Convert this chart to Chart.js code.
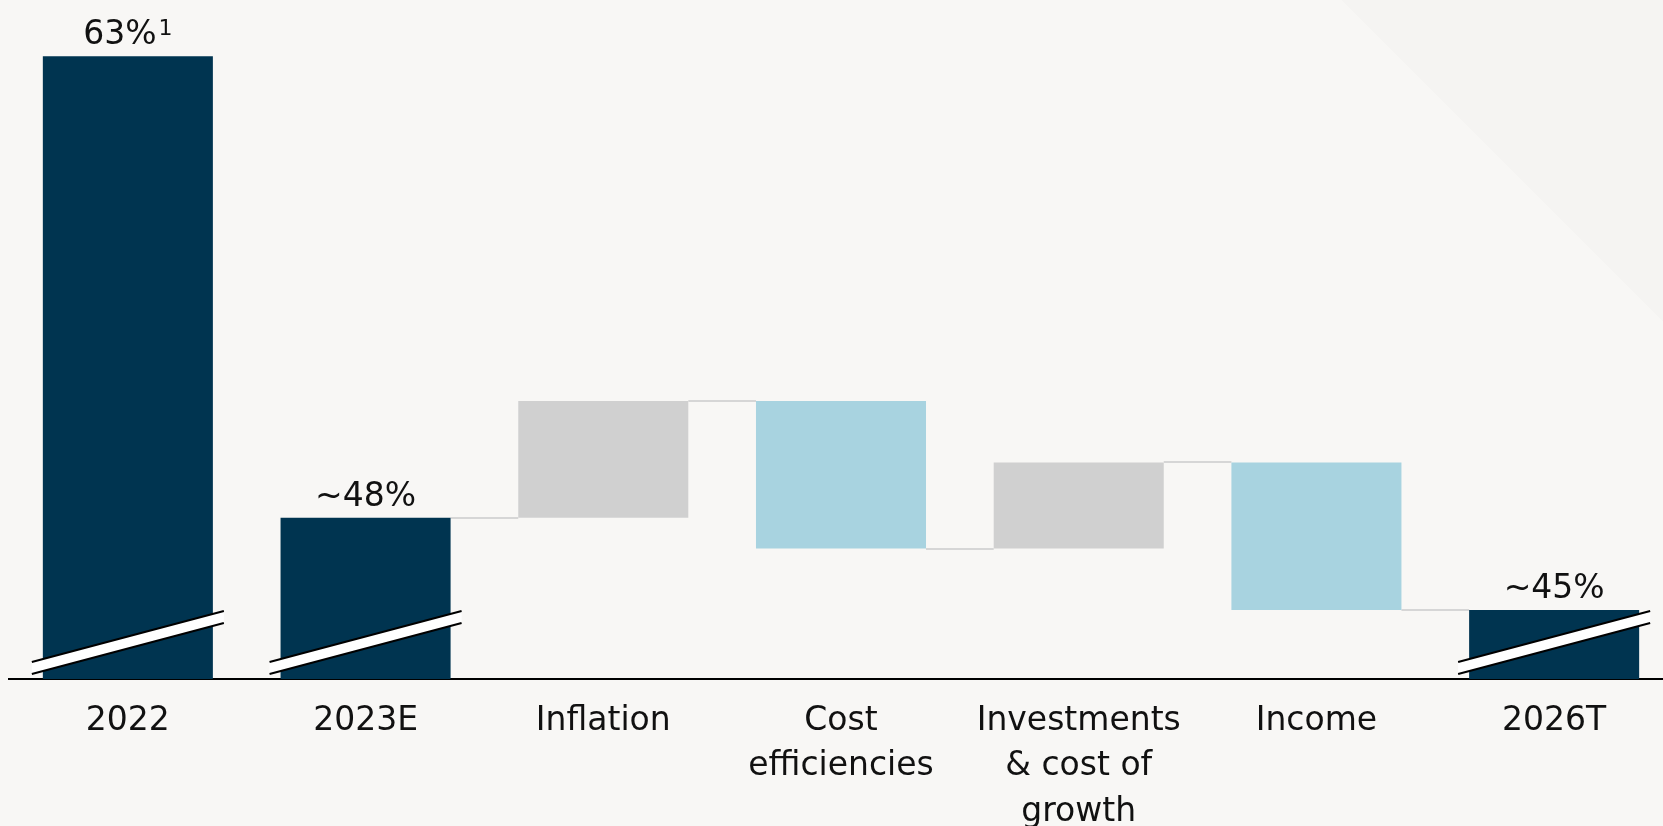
<!DOCTYPE html>
<html>
<head>
<meta charset="utf-8">
<script src="https://cdn.jsdelivr.net/npm/chart.js@4"></script>
<style>
  html, body {
    margin: 0;
    padding: 0;
    width: 1663px;
    height: 826px;
    overflow: hidden;
    background: linear-gradient(45deg, #f8f7f5 87.1%, #f5f4f2 87.1%);
  }
  #wrap {
    position: absolute;
    left: 0;
    top: 0;
    width: 1673px;
    height: 826px;
  }
</style>
</head>
<body>
<div id="wrap"><canvas id="myChart"></canvas></div>
<script>
// Cost/income ratio walk, 2022 -> 2026 target

const categories = ['2022', '2023E', 'Inflation', ['Cost', 'efficiencies'], ['Investments', '& cost of', 'growth'], 'Income', '2026T'];

// totals (dark bars) and the floating steps in between
const totals = [63, 48, null, null, null, null, 45];
const steps = [null, null, [48, 51.8], [51.8, 47.0], [47.0, 49.8], [49.8, 45.0], null];

const valueLabels = ['63%', '~48%', '', '', '', '', '~45%'];
const footnotes = ['1', '', '', '', '', '', ''];
const brokenBars = [true, true, false, false, false, false, true];

const navy = '#003450';
const grey = '#d0d0d0';
const lightBlue = '#a8d3e0';
const barColors = [navy, navy, grey, lightBlue, grey, lightBlue, navy];

// y range of the visible window (axis is broken, so it does not start at 0)
const yMin = 42.76;
const yMax = 64.83;

const fontFamily = '"DejaVu Sans", sans-serif';

let barData = [];
for (let i = 0; i < categories.length; i++) {
    barData.push(totals[i] !== null ? totals[i] : steps[i]);
}

// level where each bar ends, used for the thin connector lines
function endLevel(i) {
    return totals[i] !== null ? totals[i] : steps[i][1];
}

const waterfallExtras = {
    id: 'waterfallExtras',
    beforeDatasetsDraw(chart) {
        const ctx = chart.ctx;
        const meta = chart.getDatasetMeta(0);
        const y = chart.scales.y;
        ctx.save();
        ctx.strokeStyle = '#d6d6d6';
        ctx.lineWidth = 2;
        // no connector between 2022 and 2023E
        for (let i = 1; i < meta.data.length - 1; i++) {
            const a = meta.data[i];
            const b = meta.data[i + 1];
            const py = Math.round(y.getPixelForValue(endLevel(i)));
            ctx.beginPath();
            ctx.moveTo(a.x + a.width / 2, py);
            ctx.lineTo(b.x - b.width / 2, py);
            ctx.stroke();
        }
        ctx.restore();
    },
    afterDatasetsDraw(chart) {
        const ctx = chart.ctx;
        const meta = chart.getDatasetMeta(0);
        const base = chart.chartArea.bottom;
        ctx.save();

        // break marks across the total bars
        meta.data.forEach(function (bar, i) {
            if (!brokenBars[i]) return;
            const l = bar.x - bar.width / 2 - 11;
            const r = bar.x + bar.width / 2 + 11;
            ctx.fillStyle = '#ffffff';
            ctx.beginPath();
            ctx.moveTo(l, base - 17);
            ctx.lineTo(r, base - 68);
            ctx.lineTo(r, base - 56);
            ctx.lineTo(l, base - 5);
            ctx.closePath();
            ctx.fill();
            ctx.strokeStyle = '#000000';
            ctx.lineWidth = 2;
            ctx.beginPath();
            ctx.moveTo(l, base - 17);
            ctx.lineTo(r, base - 68);
            ctx.moveTo(l, base - 5);
            ctx.lineTo(r, base - 56);
            ctx.stroke();
        });

        // value labels above the totals, with a raised footnote mark
        ctx.fillStyle = '#111111';
        ctx.textBaseline = 'alphabetic';
        meta.data.forEach(function (bar, i) {
            if (!valueLabels[i]) return;
            const mainFont = '33px ' + fontFamily;
            const noteFont = '22px ' + fontFamily;
            ctx.font = mainFont;
            const w1 = ctx.measureText(valueLabels[i]).width;
            ctx.font = noteFont;
            const w2 = footnotes[i] ? ctx.measureText(footnotes[i]).width + 2 : 0;
            const x0 = bar.x - (w1 + w2) / 2;
            const yText = bar.y - 12;
            ctx.textAlign = 'left';
            ctx.font = mainFont;
            ctx.fillText(valueLabels[i], x0, yText);
            if (footnotes[i]) {
                ctx.font = noteFont;
                ctx.fillText(footnotes[i], x0 + w1 + 2, yText - 9);
            }
        });
        ctx.restore();
    }
};

const chart = new Chart('myChart', {
    type: 'bar',
    data: {
        labels: categories,
        datasets: [{
            data: barData,
            backgroundColor: barColors,
            borderWidth: 0,
            barPercentage: 0.7153,
            categoryPercentage: 1.0
        }]
    },
    options: {
        responsive: true,
        maintainAspectRatio: false,
        animation: false,
        events: [],
        layout: { padding: { left: 9, right: 0, top: 0, bottom: 0 } },
        plugins: {
            legend: { display: false },
            tooltip: { enabled: false },
            title: { display: false }
        },
        scales: {
            x: {
                z: 1,
                grid: { display: false },
                border: { display: true, color: '#000000', width: 2 },
                ticks: {
                    color: '#111111',
                    padding: 12,
                    maxRotation: 0,
                    autoSkip: false,
                    font: { family: fontFamily, size: 33, lineHeight: 1.37 }
                },
                afterFit(scale) {
                    scale.height = 147;
                }
            },
            y: {
                display: false,
                min: yMin,
                max: yMax
            }
        }
    },
    plugins: [waterfallExtras]
});
</script>
</body>
</html>
